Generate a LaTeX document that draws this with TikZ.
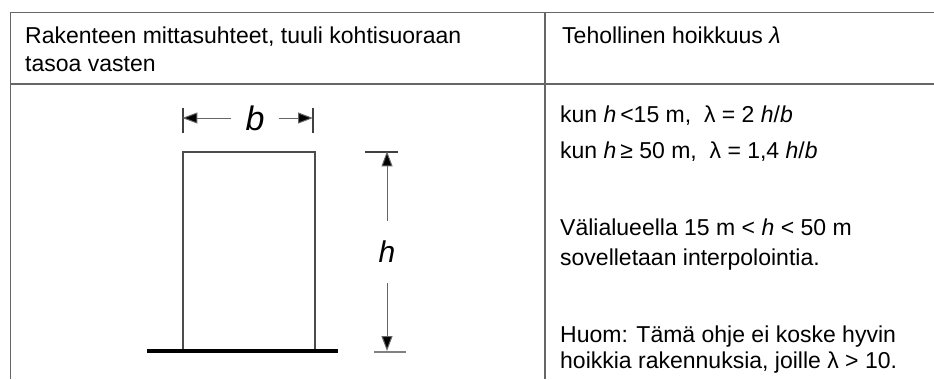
\documentclass[tikz,border=0pt]{standalone}
\usepackage{fontspec}
\setmainfont{Liberation Sans}
\usetikzlibrary{arrows.meta,positioning}
\begin{document}
\begin{tikzpicture}[x=1bp,y=-1bp,
celltext/.style={anchor=base west, inner sep=0pt, font=\fontsize{23bp}{27bp}\selectfont},
rule/.style={draw=black!60, line width=1.4bp},
building/.style={rectangle, draw=black!70, line width=1.3bp, minimum width=132bp, minimum height=198bp, inner sep=0pt},
dimline/.style={draw=black!60, line width=1bp, -{Triangle[length=15bp,width=11bp,fill=black]}},
dimbar/.style={draw=black!75, line width=1.2bp},
]
\useasboundingbox (0,0) rectangle (934,379);
%Table
\draw[rule] (934,12.5) -- (10.5,12.5) -- (10.5,379);
\draw[rule] (10.5,84) -- (934,84);
\draw[rule] (545,12.5) -- (545,379);
%Header
\node[celltext](head1) at (25,43) {Rakenteen mittasuhteet, tuuli kohtisuoraan};
\node[celltext](head2) at (25,71) {tasoa vasten};
\node[celltext](head3) at (562,43) {Tehollinen hoikkuus \textit{λ}};
%Right cell
\node[celltext](rule1) at (560,122) {kun \textit{h}\,<15 m,\ \ λ = 2 \textit{h}/\textit{b}};
\node[celltext](rule2) at (560,158) {kun \textit{h}\,≥ 50 m,\ \ λ = 1,4 \textit{h}/\textit{b}};
\node[celltext](mid1) at (560,235) {Välialueella 15 m < \textit{h} < 50 m};
\node[celltext](mid2) at (560,265) {sovelletaan interpolointia.};
\node[celltext](note1) at (560,342) {Huom: Tämä ohje ei koske hyvin};
\node[celltext](note2) at (560,368) {hoikkia rakennuksia, joille λ > 10.};
%Building
\node[building](bldg) at (249,251) {};
\draw[line width=4bp] (147,351) -- (338,351);
%Width b
\node[inner xsep=14bp, font=\fontsize{34bp}{34bp}\selectfont\itshape](blabel) at (255,118) {b};
\coordinate (bL) at (bldg.north west |- blabel);
\coordinate (bR) at (313,118);
\draw[dimbar] (183,108) -- (183,133);
\draw[dimbar] (313,108) -- (313,133);
\draw[dimline] (blabel) -- (bL);
\draw[dimline] (blabel) -- (bR);
%Height h
\node[inner ysep=20bp, font=\fontsize{30bp}{30bp}\selectfont\itshape](hlabel) at (387,252) {h};
\coordinate (hT) at (hlabel |- bldg.north);
\coordinate (hB) at (387,351);
\draw[dimbar] (365,152) -- (398,152);
\draw[dimbar, draw=black!50] (374,352) -- (406,352);
\draw[dimline] (hlabel) -- (hT);
\draw[dimline] (hlabel) -- (hB);
\end{tikzpicture}
\end{document}
